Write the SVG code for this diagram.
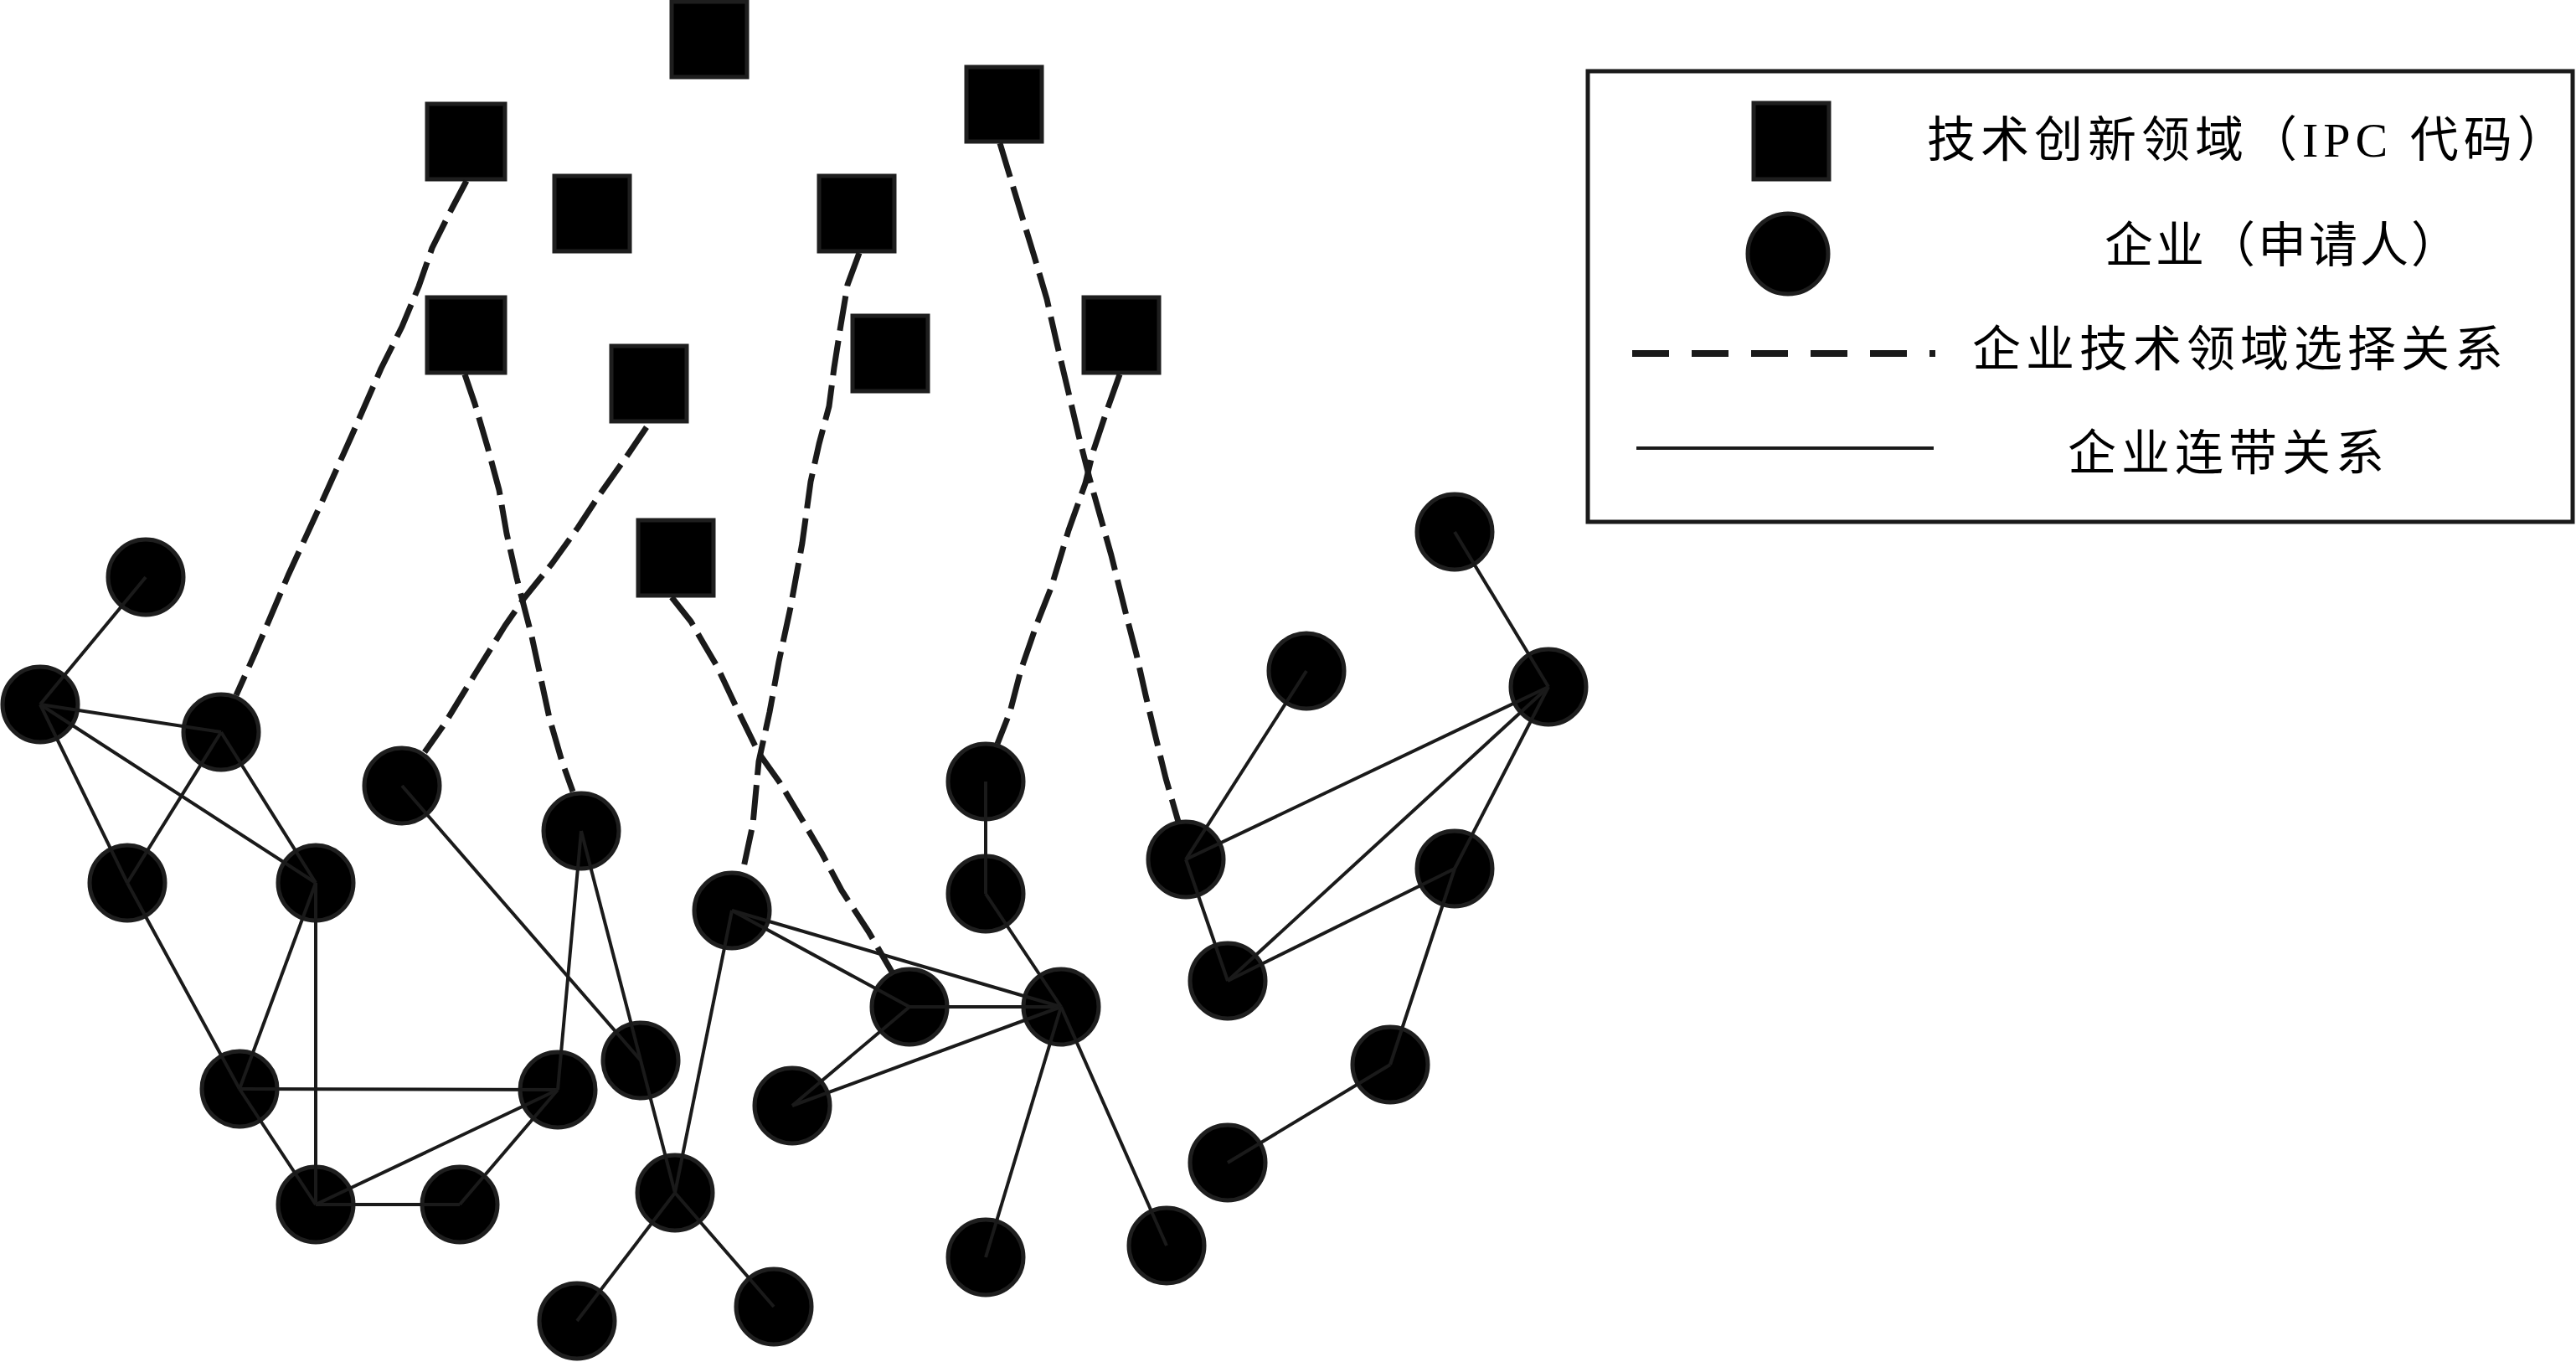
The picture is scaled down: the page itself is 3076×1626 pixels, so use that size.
<svg xmlns="http://www.w3.org/2000/svg" width="3076" height="1626" viewBox="0 0 3076 1626">
<style>
.sq{fill:#000;stroke:#1e1e1e;stroke-width:5}
.co{fill:#000;stroke:#1e1e1e;stroke-width:5}
.sel{fill:none;stroke:#1a1a1a;stroke-width:7;stroke-dasharray:42 12;stroke-linejoin:round}
.lnk{stroke:#1a1a1a;stroke-width:4;fill:none}
.lg{font-family:"Liberation Serif","Noto Sans CJK SC",serif;font-size:58px;fill:#000}
</style>
<rect x="0" y="0" width="3076" height="1626" fill="#fff"/>
<g id="ipc-nodes">
<rect id="S1" class="sq" x="802" y="2" width="90" height="90"/>
<rect id="S2" class="sq" x="510" y="124" width="93" height="90"/>
<rect id="S3" class="sq" x="662" y="210" width="90" height="90"/>
<rect id="S4" class="sq" x="1154" y="80" width="90" height="89"/>
<rect id="S5" class="sq" x="978" y="210" width="90" height="90"/>
<rect id="S6" class="sq" x="510" y="355" width="93" height="90"/>
<rect id="S7" class="sq" x="730" y="413" width="90" height="90"/>
<rect id="S8" class="sq" x="1018" y="377" width="90" height="90"/>
<rect id="S9" class="sq" x="1294" y="355" width="90" height="90"/>
<rect id="S10" class="sq" x="762" y="621" width="90" height="90"/>
</g>
<g id="firm-nodes">
<circle id="C1" class="co" cx="174" cy="689" r="45"/>
<circle id="C2" class="co" cx="48" cy="841" r="45"/>
<circle id="C3" class="co" cx="264" cy="874" r="45"/>
<circle id="C4" class="co" cx="152" cy="1054" r="45"/>
<circle id="C5" class="co" cx="377" cy="1054" r="45"/>
<circle id="C6" class="co" cx="286" cy="1300" r="45"/>
<circle id="C7" class="co" cx="377" cy="1438" r="45"/>
<circle id="C8" class="co" cx="549" cy="1438" r="45"/>
<circle id="C9" class="co" cx="666" cy="1301" r="45"/>
<circle id="C10" class="co" cx="480" cy="938" r="45"/>
<circle id="C11" class="co" cx="694" cy="992" r="45"/>
<circle id="C12" class="co" cx="765" cy="1266" r="45"/>
<circle id="C13" class="co" cx="806" cy="1424" r="45"/>
<circle id="C14" class="co" cx="689" cy="1577" r="45"/>
<circle id="C15" class="co" cx="924" cy="1560" r="45"/>
<circle id="C16" class="co" cx="874" cy="1087" r="45"/>
<circle id="C17" class="co" cx="1086" cy="1202" r="45"/>
<circle id="C18" class="co" cx="946" cy="1320" r="45"/>
<circle id="C19" class="co" cx="1267" cy="1202" r="45"/>
<circle id="C20" class="co" cx="1177" cy="1501" r="45"/>
<circle id="C21" class="co" cx="1393" cy="1487" r="45"/>
<circle id="C22" class="co" cx="1177" cy="933" r="45"/>
<circle id="C23" class="co" cx="1177" cy="1067" r="45"/>
<circle id="C24" class="co" cx="1416" cy="1026" r="45"/>
<circle id="C25" class="co" cx="1466" cy="1171" r="45"/>
<circle id="C26" class="co" cx="1560" cy="801" r="45"/>
<circle id="C27" class="co" cx="1737" cy="635" r="45"/>
<circle id="C28" class="co" cx="1849" cy="820" r="45"/>
<circle id="C29" class="co" cx="1737" cy="1037" r="45"/>
<circle id="C30" class="co" cx="1660" cy="1271" r="45"/>
<circle id="C31" class="co" cx="1466" cy="1388" r="45"/>
</g>
<g id="connectors">
<polyline class="sel" points="557,216 539,250 516,296 500,342 480,390 455,440 420,520 384,600 344,687 304,781 282,830"/>
<polyline class="sel" points="555,447 567,482 582,533 596,585 605,637 617,690 635,760 656,857 671,909 684,945"/>
<polyline class="sel" points="772,510 751,541 715,592 690,630 659,673 626,714 603,747 567,805 531,864 507,898"/>
<polyline class="sel" points="1026,302 1012,340 1004,388 996,439 990,485 978,530 968,575 958,648 944,725 930,790 919,850 906,909 899,984 887,1040"/>
<polyline class="sel" points="802,713 825,742 840,768 856,795 882,850 906,899 931,934 961,984 981,1018 1005,1063 1037,1112 1066,1162"/>
<polyline class="sel" points="1337,447 1321,492 1305,540 1296,577 1276,633 1255,702 1238,745 1219,800 1206,850 1191,888"/>
<polyline class="sel" points="1194,171 1207,214 1220,257 1235,306 1250,357 1262,410 1276,469 1288,520 1301,571 1327,663 1345,735 1357,781 1368,830 1380,880 1392,929 1407,981"/>
<line class="lnk" x1="174" y1="689" x2="48" y2="841"/>
<line class="lnk" x1="48" y1="841" x2="264" y2="874"/>
<line class="lnk" x1="48" y1="841" x2="377" y2="1054"/>
<line class="lnk" x1="48" y1="841" x2="152" y2="1054"/>
<line class="lnk" x1="152" y1="1054" x2="286" y2="1300"/>
<line class="lnk" x1="264" y1="874" x2="152" y2="1054"/>
<line class="lnk" x1="264" y1="874" x2="377" y2="1054"/>
<line class="lnk" x1="377" y1="1054" x2="286" y2="1300"/>
<line class="lnk" x1="377" y1="1054" x2="377" y2="1438"/>
<line class="lnk" x1="286" y1="1300" x2="666" y2="1301"/>
<line class="lnk" x1="286" y1="1300" x2="377" y2="1438"/>
<line class="lnk" x1="377" y1="1438" x2="666" y2="1301"/>
<line class="lnk" x1="377" y1="1438" x2="549" y2="1438"/>
<line class="lnk" x1="549" y1="1438" x2="666" y2="1301"/>
<line class="lnk" x1="666" y1="1301" x2="694" y2="992"/>
<line class="lnk" x1="694" y1="992" x2="806" y2="1424"/>
<line class="lnk" x1="480" y1="938" x2="765" y2="1266"/>
<line class="lnk" x1="806" y1="1424" x2="689" y2="1577"/>
<line class="lnk" x1="806" y1="1424" x2="924" y2="1560"/>
<line class="lnk" x1="806" y1="1424" x2="874" y2="1087"/>
<line class="lnk" x1="874" y1="1087" x2="1086" y2="1202"/>
<line class="lnk" x1="874" y1="1087" x2="1267" y2="1202"/>
<line class="lnk" x1="1086" y1="1202" x2="1267" y2="1202"/>
<line class="lnk" x1="1086" y1="1202" x2="946" y2="1320"/>
<line class="lnk" x1="946" y1="1320" x2="1267" y2="1202"/>
<line class="lnk" x1="1267" y1="1202" x2="1177" y2="1501"/>
<line class="lnk" x1="1267" y1="1202" x2="1393" y2="1487"/>
<line class="lnk" x1="1267" y1="1202" x2="1177" y2="1067"/>
<line class="lnk" x1="1177" y1="933" x2="1177" y2="1067"/>
<line class="lnk" x1="1416" y1="1026" x2="1560" y2="801"/>
<line class="lnk" x1="1416" y1="1026" x2="1849" y2="820"/>
<line class="lnk" x1="1416" y1="1026" x2="1466" y2="1171"/>
<line class="lnk" x1="1466" y1="1171" x2="1849" y2="820"/>
<line class="lnk" x1="1466" y1="1171" x2="1737" y2="1037"/>
<line class="lnk" x1="1849" y1="820" x2="1737" y2="1037"/>
<line class="lnk" x1="1737" y1="1037" x2="1660" y2="1271"/>
<line class="lnk" x1="1660" y1="1271" x2="1466" y2="1388"/>
<line class="lnk" x1="1737" y1="635" x2="1849" y2="820"/>
</g>
<g id="legend">
<rect x="1896" y="85" width="1176" height="538" fill="#fff" stroke="#1a1a1a" stroke-width="5"/>
<rect class="sq" x="2094" y="123" width="90" height="91"/>
<circle class="co" cx="2135" cy="303" r="48"/>
<line x1="1949" y1="422" x2="2311" y2="422" stroke="#1a1a1a" stroke-width="8" stroke-dasharray="44 27"/>
<line x1="1954" y1="535" x2="2309" y2="535" stroke="#1a1a1a" stroke-width="4"/>
<text class="lg" x="2301" y="187" letter-spacing="6">技术创新领域（IPC 代码）</text>
<text class="lg" x="2513" y="313" letter-spacing="3">企业（申请人）</text>
<text class="lg" x="2355" y="437" letter-spacing="6">企业技术领域选择关系</text>
<text class="lg" x="2469" y="561" letter-spacing="6">企业连带关系</text>
</g>
</svg>
